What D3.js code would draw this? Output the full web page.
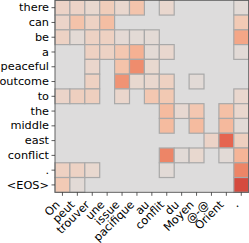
<!DOCTYPE html>
<html>
<head>
	<script src="https://d3js.org/d3.v7.min.js"></script>
	<style>
		body { margin: 0; background: #fff; }
		text { font-family: "DejaVu Sans", sans-serif; }
	</style>
</head>
<body>
	<script type="text/javascript">
		// source words (columns) and output words (rows)
		var srcWords = ["On", "peut", "trouver", "une", "issue", "pacifique", "au", "conflit", "du", "Moyen", "@-@", "Orient", "."];
		var tgtWords = ["there", "can", "be", "a", "peaceful", "outcome", "to", "the", "middle", "east", "conflict", ".", "<EOS>"];

		// attention weights, one row per output word (0 = not shown)
		var attn = [
			[0.13, 0.13, 0.09, 0.18, 0.10, 0.24, 0,    0.10, 0,    0,    0,    0,    0.04],
			[0.12, 0.25, 0.14, 0.28, 0,    0,    0,    0,    0,    0,    0,    0,    0.20],
			[0.14, 0.05, 0.14, 0.15, 0.06, 0.05, 0.05, 0,    0,    0,    0,    0,    0.42],
			[0,    0,    0.15, 0.14, 0.22, 0.36, 0.05, 0.10, 0,    0,    0,    0,    0.04],
			[0,    0,    0.11, 0,    0.25, 0.55, 0.09, 0,    0,    0,    0,    0,    0   ],
			[0,    0,    0.15, 0,    0.52, 0.09, 0.10, 0.15, 0,    0.04, 0,    0,    0   ],
			[0.12, 0.16, 0.16, 0,    0.11, 0,    0.22, 0.21, 0,    0,    0,    0,    0.10],
			[0,    0,    0,    0,    0,    0,    0,    0.30, 0.08, 0.22, 0,    0.27, 0.10],
			[0,    0,    0,    0,    0,    0,    0,    0.30, 0,    0.30, 0,    0.31, 0.04],
			[0,    0,    0,    0,    0,    0,    0,    0,    0,    0,    0.13, 0.70, 0.16],
			[0,    0,    0,    0,    0,    0,    0,    0.58, 0.04, 0.09, 0,    0.04, 0.34],
			[0.15, 0.14, 0.09, 0,    0,    0,    0,    0.04, 0,    0,    0,    0,    0.58],
			[0.20, 0.04, 0,    0,    0,    0,    0,    0,    0,    0,    0,    0,    0.80]
		];

		var width = 249, height = 243;
		var plotL = 55, plotR = 248.7, plotT = 0.3, plotB = 192.3;
		var fs = 11.3;

		// warm half of a coolwarm style map
		var color = d3.scaleLinear()
			.domain([0, 0.1, 0.2, 0.3, 0.4, 0.5, 0.6, 0.7, 0.8, 0.9, 1])
			.range(["#dddcdc", "#e9d7ce", "#f2cab5", "#f5bb9f", "#f5aa8b", "#f19778",
					"#ec8163", "#e5644f", "#d54a3e", "#c42a33", "#b40426"]);

		var x = d3.scaleBand().domain(srcWords).range([plotL, plotR]);
		var y = d3.scaleBand().domain(tgtWords).range([plotT, plotB]);

		var svg = d3.select("body").append("svg")
			.attr("width", width)
			.attr("height", height);

		// masked background
		svg.append("rect")
			.attr("x", plotL).attr("y", plotT)
			.attr("width", plotR - plotL).attr("height", plotB - plotT)
			.attr("fill", "#dddcdc");

		var cells = [];
		attn.forEach(function(row, i) {
			row.forEach(function(v, j) {
				if (v > 0) cells.push({ r: tgtWords[i], c: srcWords[j], v: v });
			});
		});

		svg.selectAll("rect.cell")
			.data(cells)
			.enter()
			.append("rect")
			.attr("class", "cell")
			.attr("x", function(d) { return x(d.c); })
			.attr("y", function(d) { return y(d.r); })
			.attr("width", x.bandwidth())
			.attr("height", y.bandwidth())
			.attr("fill", function(d) { return color(d.v); })
			.attr("stroke", "#a9a9a9")
			.attr("stroke-width", 1.2);

		// frame
		svg.append("rect")
			.attr("x", plotL).attr("y", plotT)
			.attr("width", plotR - plotL).attr("height", plotB - plotT)
			.attr("fill", "none")
			.attr("stroke", "#555")
			.attr("stroke-width", 0.9);

		// y axis
		var yAxis = svg.append("g")
			.attr("transform", "translate(" + plotL + ",0)")
			.call(d3.axisLeft(y).tickSize(3.5).tickPadding(2.5));
		yAxis.select(".domain").remove();
		yAxis.selectAll("line").attr("stroke", "#333").attr("stroke-width", 0.8);
		yAxis.selectAll("text")
			.attr("font-size", fs)
			.attr("font-family", "DejaVu Sans")
			.attr("fill", "#000");

		// x axis with 45 degree labels
		var asc = 0.76 * fs, desc = 0.24 * fs;
		var xAxis = svg.append("g")
			.attr("transform", "translate(0," + plotB + ")")
			.call(d3.axisBottom(x).tickSize(3.5));
		xAxis.select(".domain").remove();
		xAxis.selectAll("line").attr("stroke", "#333").attr("stroke-width", 0.8);
		xAxis.selectAll("text")
			.attr("font-size", fs)
			.attr("font-family", "DejaVu Sans")
			.attr("fill", "#000")
			.attr("y", null)
			.attr("dy", null)
			.attr("text-anchor", "end")
			.attr("transform", "translate(" + (-0.707 * desc) + "," + (7 + 0.707 * asc) + ") rotate(-45)");
	</script>
</body>
</html>
